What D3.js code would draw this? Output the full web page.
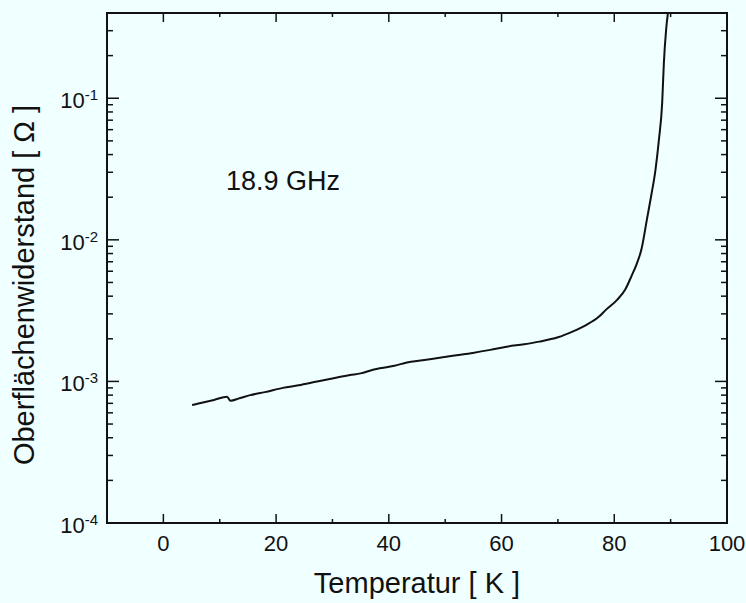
<!DOCTYPE html>
<html>
<head>
  <meta charset="utf-8">
  <title>Oberflächenwiderstand 18.9 GHz</title>
  <script src="https://d3js.org/d3.v7.min.js"></script>
  <style>
    body { margin: 0; background: #f0ffff; }
    text { font-family: "Liberation Sans", Arial, sans-serif; fill: #111; }
  </style>
</head>
<body>
  <div id="chart"></div>

  <script>
    // data
    const temps = [5.1, 7, 9, 11.3, 11.9, 13.5, 15.4, 18, 21.2, 24, 27.3, 30, 33.1, 35, 37.2, 39, 41, 43.2, 46, 49,
                   52, 54.9, 58, 60.9, 64, 66.7, 70, 72.6, 75, 77.3, 78.5, 80.5, 82, 83, 84, 84.8, 85.8,
                   86.6, 87.3, 87.9, 88.5, 88.8, 89.2, 89.7];
    const resist = [6.8e-4, 7.1e-4, 7.4e-4, 7.8e-4, 7.3e-4, 7.6e-4, 8.0e-4, 8.4e-4, 9.0e-4, 9.4e-4, 1.0e-3, 1.05e-3, 1.11e-3, 1.14e-3, 1.21e-3, 1.25e-3, 1.29e-3, 1.36e-3, 1.41e-3, 1.47e-3,
                    1.53e-3, 1.59e-3, 1.67e-3, 1.76e-3, 1.83e-3, 1.91e-3, 2.05e-3, 2.25e-3, 2.5e-3, 2.87e-3, 3.2e-3, 3.77e-3, 4.5e-3, 5.48e-3, 6.8e-3, 8.5e-3, 1.4e-2,
                    2.1e-2, 3.1e-2, 5.0e-2, 9.3e-2, 0.178, 0.305, 0.45];
    const xTicks = [0, 20, 40, 60, 80, 100];
    const xMinor = [-10, 10, 30, 50, 70, 90];
    const yDecades = [-4, -3, -2, -1];
    const annotation = "18.9 GHz";
    const xTitle = "Temperatur [ K ]";
    const yTitle = "Oberflächenwiderstand [ Ω ]";

    const W = 746, H = 603;
    const pL = 107, pR = 727, pT = 13, pB = 523;

    const svg = d3.select("#chart").append("svg").attr("width", W).attr("height", H);
    svg.append("rect").attr("width", W).attr("height", H).attr("fill", "#f0ffff");

    const x = d3.scaleLinear().domain([-10, 100]).range([pL, pR]);
    const y = d3.scaleLog().domain([1e-4, 0.4]).range([pB, pT]);

    // minor log ticks 2..9 per decade
    const yMinor = [];
    yDecades.forEach(e => {
      for (let m = 2; m <= 9; m++) {
        const v = m * Math.pow(10, e);
        if (v <= 0.4) yMinor.push(v);
      }
    });

    const g = svg.append("g");
    const tick = (x1, y1, x2, y2) => g.append("line")
      .attr("x1", x1).attr("y1", y1).attr("x2", x2).attr("y2", y2)
      .attr("stroke", "#111").attr("stroke-width", 1.5);

    // inward ticks on all four sides
    xTicks.forEach(t => { tick(x(t), pB, x(t), pB - 9); tick(x(t), pT, x(t), pT + 9); });
    xMinor.forEach(t => { tick(x(t), pB, x(t), pB - 4); tick(x(t), pT, x(t), pT + 4); });
    yDecades.forEach(e => {
      const v = Math.pow(10, e);
      tick(pL, y(v), pL + 12, y(v)); tick(pR, y(v), pR - 12, y(v));
    });
    yMinor.forEach(v => { tick(pL, y(v), pL + 6, y(v)); tick(pR, y(v), pR - 6, y(v)); });

    // frame
    g.append("rect").attr("x", pL).attr("y", pT)
      .attr("width", pR - pL).attr("height", pB - pT)
      .attr("fill", "none").attr("stroke", "#111").attr("stroke-width", 2);

    // x tick labels
    g.selectAll(".xl").data(xTicks).join("text")
      .attr("x", d => x(d)).attr("y", pB + 28)
      .attr("text-anchor", "middle").attr("font-size", 22)
      .text(d => d);

    // y tick labels 10^n
    yDecades.forEach(e => {
      const t = g.append("text").attr("x", 98).attr("y", y(Math.pow(10, e)) + 10)
        .attr("text-anchor", "end").attr("font-size", 22);
      t.append("tspan").text("10");
      t.append("tspan").attr("dy", -8).attr("font-size", 15).text("-" + Math.abs(e));
    });

    // clip for the curve
    svg.append("clipPath").attr("id", "clip")
      .append("rect").attr("x", pL).attr("y", pT).attr("width", pR - pL).attr("height", pB - pT);

    const data = temps.map((t, i) => ({ t, r: resist[i] }));
    const line = d3.line().x(d => x(d.t)).y(d => y(d.r)).curve(d3.curveMonotoneX);

    svg.append("path").datum(data)
      .attr("clip-path", "url(#clip)")
      .attr("fill", "none").attr("stroke", "#111").attr("stroke-width", 2)
      .attr("d", line);

    // annotation
    svg.append("text").attr("x", 226).attr("y", 190).attr("font-size", 27).text(annotation);

    // axis titles
    svg.append("text").attr("x", (pL + pR) / 2).attr("y", 593)
      .attr("text-anchor", "middle").attr("font-size", 29).text(xTitle);
    svg.append("text").attr("transform", "translate(34,285) rotate(-90)")
      .attr("text-anchor", "middle").attr("font-size", 29).text(yTitle);
  </script>
</body>
</html>
